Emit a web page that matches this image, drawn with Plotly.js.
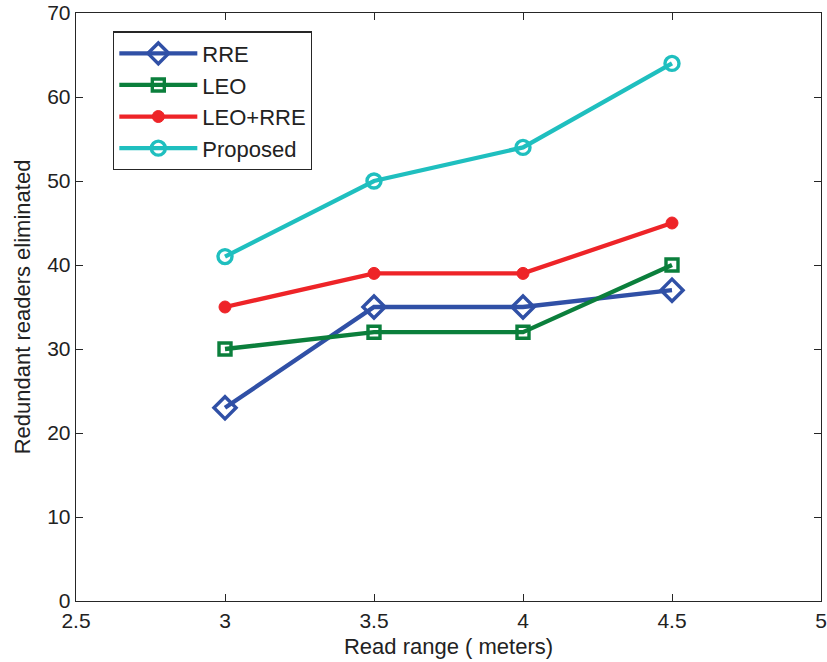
<!DOCTYPE html>
<html>
<head>
<meta charset="utf-8">
<script src="https://cdn.plot.ly/plotly-3.0.1.min.js"></script>
<style>
  html, body { margin: 0; padding: 0; background: #ffffff; }
  #chart { width: 827px; height: 662px; }
</style>
</head>
<body>
<div id="chart"></div>
<script>
// Read range in meters
const readRange = [3, 3.5, 4, 4.5];

// Redundant readers eliminated for each scheme
const rre = [23, 35, 35, 37];
const leo = [30, 32, 32, 40];
const leoRre = [35, 39, 39, 45];
const proposed = [41, 50, 54, 64];

const xTicks = [2.5, 3, 3.5, 4, 4.5, 5];
const xTickText = ['2.5', '3', '3.5', '4', '4.5', '5'];
const yTicks = [0, 10, 20, 30, 40, 50, 60, 70];

const font = 'Liberation Sans, Arial, Helvetica, sans-serif';

function series(name, y, color, symbol, size, markerLine, fill) {
  return {
    type: 'scatter',
    mode: 'lines+markers',
    name: name,
    x: readRange,
    y: y,
    line: { color: color, width: 4.3 },
    marker: {
      symbol: symbol,
      size: size,
      color: fill,
      line: { color: color, width: markerLine }
    }
  };
}

const traces = [
  series('RRE', rre, '#3050a6', 'diamond-open', 17, 3.4, '#3050a6'),
  series('LEO', leo, '#0b7f3c', 'square-open', 12, 3.4, '#0b7f3c'),
  series('LEO+RRE', leoRre, '#ee2428', 'circle', 12, 1, '#ee2428'),
  series('Proposed', proposed, '#1fbfbf', 'circle-open', 14, 3.4, '#1fbfbf')
];

const axisCommon = {
  showgrid: false,
  zeroline: false,
  showline: true,
  mirror: 'ticks',
  linecolor: '#262626',
  linewidth: 1.3,
  ticks: 'inside',
  ticklen: 7,
  tickwidth: 1,
  tickcolor: '#262626',
  tickfont: { family: font, size: 21, color: '#222222' }
};

const layout = {
  width: 827,
  height: 662,
  margin: { l: 76, r: 6, t: 13, b: 61 },
  paper_bgcolor: '#ffffff',
  plot_bgcolor: '#ffffff',
  showlegend: true,
  legend: {
    x: 0.0497,
    y: 0.969,
    xanchor: 'left',
    yanchor: 'top',
    bgcolor: '#ffffff',
    bordercolor: '#262626',
    borderwidth: 1.3,
    font: { family: font, size: 22, color: '#222222' },
    itemwidth: 78,
    tracegroupgap: 0
  },
  xaxis: Object.assign({}, axisCommon, {
    range: [2.5, 5],
    tickmode: 'array',
    tickvals: xTicks,
    ticktext: xTickText,
    title: { text: 'Read range ( meters)', font: { family: font, size: 22, color: '#222222' }, standoff: 8 }
  }),
  yaxis: Object.assign({}, axisCommon, {
    range: [0, 70],
    tickmode: 'array',
    tickvals: yTicks,
    title: { text: 'Redundant readers eliminated', font: { family: font, size: 22, color: '#222222' }, standoff: 10 }
  })
};

Plotly.newPlot('chart', traces, layout, { displayModeBar: false, staticPlot: true });
</script>
</body>
</html>
